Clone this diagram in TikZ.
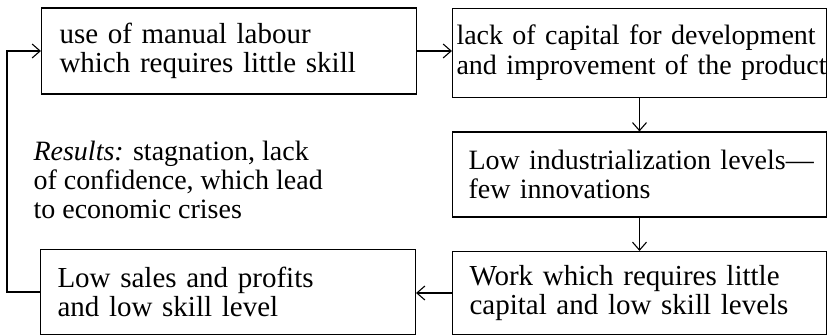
\documentclass[tikz,border=0pt]{standalone}
\usepackage{fontspec}
\setmainfont{Liberation Serif}
\usetikzlibrary{positioning,arrows.meta,calc}

\begin{document}
\begin{tikzpicture}[
  x=1pt, y=1pt,
  box/.style={draw, line width=1.1pt, align=left, inner ysep=0pt,
    font=\fontsize{29}{29.5}\selectfont},
  >={Straight Barb[length=8pt, width=14pt]}, line width=1.1pt
]
  \useasboundingbox (0,0) rectangle (828,336);
  \node[box, text width=339pt, inner xsep=18pt, minimum height=86pt] (labour) at (229,285)
    {use of manual labour\\which requires little skill};
  \node[box, text width=366pt, inner xsep=4pt, minimum height=89pt,
    font=\fontsize{28}{30}\selectfont] (capital) at (639.5,283)
    {\mbox{lack of capital for development}\\\mbox{and improvement of the product}};
  \node[box, text width=342pt, inner xsep=16pt, minimum height=85pt,
    font=\fontsize{28}{28.5}\selectfont] (indust) at (639.5,161.5)
    {\mbox{Low industrialization levels---}\\few innovations};
  \node[box, text width=340pt, inner xsep=17pt, minimum height=83pt] (work) at (639.5,43)
    {Work which requires little\\capital and low skill levels};
  \node[box, text width=341pt, inner xsep=17pt, minimum height=85pt] (sales) at (228,44)
    {Low sales and profits\\and low skill level};
  \node[align=left, anchor=west, inner sep=0pt, font=\fontsize{28}{29}\selectfont] (results) at (33,156)
    {\textit{Results:} stagnation, lack\\of confidence, which lead\\to economic crises};

  \draw[->] (labour.east) -- (labour.east -| capital.west);
  \draw[->] (capital.south) -- (indust.north);
  \draw[->] (indust.south) -- (work.north);
  \draw[->] (work.west) -- (work.west -| sales.east);
  \draw[->] (sales.west) -- ++(-33,0) |- (labour.west);
\end{tikzpicture}
\end{document}
